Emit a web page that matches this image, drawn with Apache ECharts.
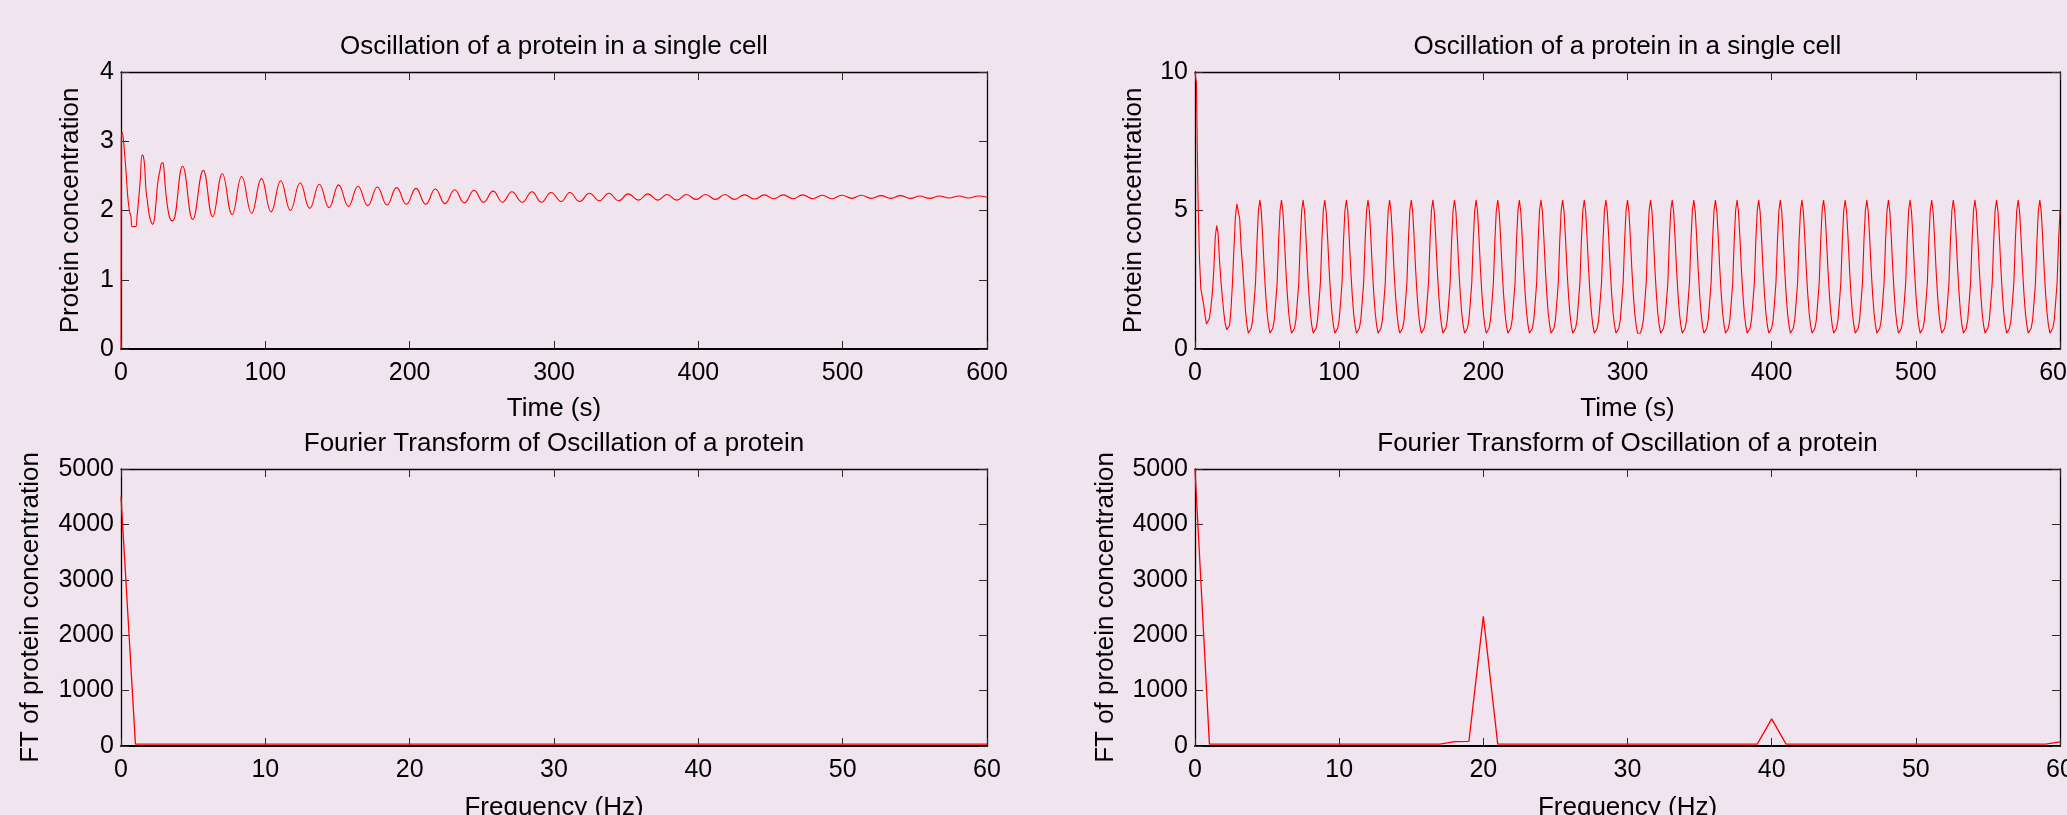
<!DOCTYPE html>
<html>
<head>
<meta charset="utf-8">
<title>Oscillation of a protein in a single cell</title>
<script src="https://cdn.jsdelivr.net/npm/echarts@6/dist/echarts.min.js"></script>
<style>
  html, body { margin: 0; padding: 0; background: #F0E4EE; }
  #chart { width: 2067px; height: 815px; }
</style>
</head>
<body>
<div id="chart"></div>
<script>
// ---- Damped oscillation (left column): sample times (s) and concentrations ----
const dampedTime = [
  0, 0.2, 0.8, 1.6, 2.3, 3.5, 4.6, 5.8, 6.9, 7.6, 10.4, 11.1, 12.2, 13.4, 14.6, 15.5,
  16.4, 17.3, 18.5, 19.6, 20.8, 21.9, 23.0, 24.2, 25.4, 27.0, 28.4, 29.3, 30.5, 31.9,
  33.5, 34.6, 35.8,
  42.7, 49.7, 57.0, 63.5, 70.2, 77.0, 83.6, 90.5, 97.3, 104.0, 110.7, 117.4, 124.1, 130.8,
  137.4, 144.2, 150.8, 157.6, 164.2, 171.0, 177.6, 184.3, 191.0, 197.7, 204.4, 211.1,
  217.8, 224.5, 231.2, 237.9, 244.6, 251.2, 257.8, 264.4, 270.8, 278.0, 284.7, 291.3,
  298.0, 305.0, 311.0, 317.8, 324.6, 331.4, 338.0, 344.9, 351.4, 358.5, 365.0, 371.9,
  378.3, 385.1, 391.7, 398.5, 405.0, 411.9, 418.4, 425.1, 432.0, 439.0, 445.8, 452.2,
  458.8, 465.6, 472.2, 479.2, 485.8, 492.6, 499.4, 506.4, 512.9, 519.8, 526.6, 533.3,
  540.0, 546.8, 553.5, 560.2, 567.0, 573.7, 580.5, 587.2, 594.0, 600
];
const dampedConc = [
  0, 3.0, 3.13, 3.04, 2.87, 2.56, 2.22, 2.0, 1.91, 1.77, 1.77, 1.91, 2.15, 2.46, 2.8, 2.78,
  2.63, 2.3, 2.1, 1.93, 1.84, 1.8, 1.86, 2.1, 2.39, 2.58, 2.69, 2.68, 2.39, 2.1,
  1.91, 1.86, 1.85,
  2.64, 1.87, 2.58, 1.91, 2.53, 1.94, 2.49, 1.96, 2.46, 1.98, 2.43, 2.00, 2.40, 2.03,
  2.38, 2.04, 2.37, 2.06, 2.35, 2.07, 2.34, 2.08, 2.33, 2.09, 2.32, 2.09,
  2.31, 2.10, 2.30, 2.11, 2.29, 2.12, 2.28, 2.12, 2.27, 2.12, 2.27, 2.12,
  2.26, 2.13, 2.26, 2.13, 2.25, 2.14, 2.25, 2.14, 2.24, 2.15, 2.24, 2.15,
  2.23, 2.15, 2.23, 2.16, 2.23, 2.16, 2.23, 2.16, 2.225, 2.165, 2.225, 2.17,
  2.225, 2.17, 2.225, 2.17, 2.22, 2.17, 2.22, 2.175, 2.22, 2.175, 2.215, 2.175,
  2.215, 2.175, 2.21, 2.175, 2.21, 2.18, 2.21, 2.18, 2.21, 2.19
];

// ---- Sustained oscillation (right column): one sample per second, t = 0 ... 600 s ----
const sustainedStep = 1;
const sustainedConc = [
  10.0, 9.6, 5.7, 3.4, 2.2, 1.9, 1.6, 1.2, 0.9, 0.88,
  1.1, 1.5, 2.0, 2.8, 4.0, 4.45, 4.2, 3.2, 2.45, 1.84,
  1.3, 0.9, 0.7, 0.63, 0.85, 1.45, 2.4, 3.6, 4.75, 5.24,
  5.2, 4.7, 3.66, 3.0, 2.2, 1.4, 0.87,
  0.57, 0.58, 0.75, 1.05, 1.7, 2.4, 3.9, 5.0, 5.38, 4.95, 4.0, 2.9, 2.0, 1.3, 0.85,
  0.57, 0.58, 0.75, 1.05, 1.7, 2.4, 3.9, 5.0, 5.38, 4.95, 4.0, 2.9, 2.0, 1.3, 0.85,
  0.57, 0.58, 0.75, 1.05, 1.7, 2.4, 3.9, 5.0, 5.38, 4.95, 4.0, 2.9, 2.0, 1.3, 0.85,
  0.57, 0.58, 0.75, 1.05, 1.7, 2.4, 3.9, 5.0, 5.38, 4.95, 4.0, 2.9, 2.0, 1.3, 0.85,
  0.57, 0.58, 0.75, 1.05, 1.7, 2.4, 3.9, 5.0, 5.38, 4.95, 4.0, 2.9, 2.0, 1.3, 0.85,
  0.57, 0.58, 0.75, 1.05, 1.7, 2.4, 3.9, 5.0, 5.38, 4.95, 4.0, 2.9, 2.0, 1.3, 0.85,
  0.57, 0.58, 0.75, 1.05, 1.7, 2.4, 3.9, 5.0, 5.38, 4.95, 4.0, 2.9, 2.0, 1.3, 0.85,
  0.57, 0.58, 0.75, 1.05, 1.7, 2.4, 3.9, 5.0, 5.38, 4.95, 4.0, 2.9, 2.0, 1.3, 0.85,
  0.57, 0.58, 0.75, 1.05, 1.7, 2.4, 3.9, 5.0, 5.38, 4.95, 4.0, 2.9, 2.0, 1.3, 0.85,
  0.57, 0.58, 0.75, 1.05, 1.7, 2.4, 3.9, 5.0, 5.38, 4.95, 4.0, 2.9, 2.0, 1.3, 0.85,
  0.57, 0.58, 0.75, 1.05, 1.7, 2.4, 3.9, 5.0, 5.38, 4.95, 4.0, 2.9, 2.0, 1.3, 0.85,
  0.57, 0.58, 0.75, 1.05, 1.7, 2.4, 3.9, 5.0, 5.38, 4.95, 4.0, 2.9, 2.0, 1.3, 0.85,
  0.57, 0.58, 0.75, 1.05, 1.7, 2.4, 3.9, 5.0, 5.38, 4.95, 4.0, 2.9, 2.0, 1.3, 0.85,
  0.57, 0.58, 0.75, 1.05, 1.7, 2.4, 3.9, 5.0, 5.38, 4.95, 4.0, 2.9, 2.0, 1.3, 0.85,
  0.57, 0.58, 0.75, 1.05, 1.7, 2.4, 3.9, 5.0, 5.38, 4.95, 4.0, 2.9, 2.0, 1.3, 0.85,
  0.57, 0.58, 0.75, 1.05, 1.7, 2.4, 3.9, 5.0, 5.38, 4.95, 4.0, 2.9, 2.0, 1.3, 0.85,
  0.57, 0.58, 0.75, 1.05, 1.7, 2.4, 3.9, 5.0, 5.38, 4.95, 4.0, 2.9, 2.0, 1.3, 0.85,
  0.57, 0.58, 0.75, 1.05, 1.7, 2.4, 3.9, 5.0, 5.38, 4.95, 4.0, 2.9, 2.0, 1.3, 0.85,
  0.57,
  0.57, 0.58, 0.75, 1.05, 1.7, 2.4, 3.9, 5.0, 5.38, 4.95, 4.0, 2.9, 2.0, 1.3, 0.85,
  0.57, 0.58, 0.75, 1.05, 1.7, 2.4, 3.9, 5.0, 5.38, 4.95, 4.0, 2.9, 2.0, 1.3, 0.85,
  0.57, 0.58, 0.75, 1.05, 1.7, 2.4, 3.9, 5.0, 5.38, 4.95, 4.0, 2.9, 2.0, 1.3, 0.85,
  0.57, 0.58, 0.75, 1.05, 1.7, 2.4, 3.9, 5.0, 5.38, 4.95, 4.0, 2.9, 2.0, 1.3, 0.85,
  0.57, 0.58, 0.75, 1.05, 1.7, 2.4, 3.9, 5.0, 5.38, 4.95, 4.0, 2.9, 2.0, 1.3, 0.85,
  0.57, 0.58, 0.75, 1.05, 1.7, 2.4, 3.9, 5.0, 5.38, 4.95, 4.0, 2.9, 2.0, 1.3, 0.85,
  0.57, 0.58, 0.75, 1.05, 1.7, 2.4, 3.9, 5.0, 5.38, 4.95, 4.0, 2.9, 2.0, 1.3, 0.85,
  0.57, 0.58, 0.75, 1.05, 1.7, 2.4, 3.9, 5.0, 5.38, 4.95, 4.0, 2.9, 2.0, 1.3, 0.85,
  0.57, 0.58, 0.75, 1.05, 1.7, 2.4, 3.9, 5.0, 5.38, 4.95, 4.0, 2.9, 2.0, 1.3, 0.85,
  0.57, 0.58, 0.75, 1.05, 1.7, 2.4, 3.9, 5.0, 5.38, 4.95, 4.0, 2.9, 2.0, 1.3, 0.85,
  0.57, 0.58, 0.75, 1.05, 1.7, 2.4, 3.9, 5.0, 5.38, 4.95, 4.0, 2.9, 2.0, 1.3, 0.85,
  0.57, 0.58, 0.75, 1.05, 1.7, 2.4, 3.9, 5.0, 5.38, 4.95, 4.0, 2.9, 2.0, 1.3, 0.85,
  0.57, 0.58, 0.75, 1.05, 1.7, 2.4, 3.9, 5.0, 5.38, 4.95, 4.0, 2.9, 2.0, 1.3, 0.85,
  0.57, 0.58, 0.75, 1.05, 1.7, 2.4, 3.9, 5.0, 5.38, 4.95, 4.0, 2.9, 2.0, 1.3, 0.85,
  0.57, 0.58, 0.75, 1.05, 1.7, 2.4, 3.9, 5.0, 5.38, 4.95, 4.0, 2.9, 2.0, 1.3, 0.85,
  0.57, 0.58, 0.75, 1.05, 1.7, 2.4, 3.9, 5.0, 5.38, 4.95, 4.0, 2.9, 2.0, 1.3, 0.85,
  0.57, 0.58, 0.75, 1.05, 1.7, 2.4, 3.9, 5.0, 5.38, 4.95, 4.0, 2.9, 2.0, 1.3, 0.85,
  0.57, 0.58, 0.75, 1.05, 1.7, 2.4, 3.9, 5.0, 5.38, 4.95, 4.0, 2.9, 2.0, 1.3, 0.85,
  0.57, 0.58, 0.75, 1.05, 1.7, 2.4, 3.9, 5.0, 5.38, 4.95, 4.0, 2.9, 2.0, 1.3, 0.85,
  0.57, 0.58, 0.75, 1.05, 1.7, 2.4, 3.9, 5.0
];

// ---- Fourier transforms, one value per frequency bin 0 ... 60 ----
const ftDamped = [
  4500, 35, 35, 35, 35, 35, 35, 35, 35, 35,
  35, 35, 35, 35, 35, 35, 35, 35, 35, 35,
  35, 35, 35, 35, 35, 35, 35, 35, 35, 35,
  35, 35, 35, 35, 35, 35, 35, 35, 35, 35,
  35, 35, 35, 35, 35, 35, 35, 35, 35, 35,
  35, 35, 35, 35, 35, 35, 35, 35, 35, 35,
  35
];
const ftSustained = [
  4990, 35, 35, 35, 35, 35, 35, 35, 35, 35,
  35, 35, 35, 35, 35, 35, 35, 35, 80, 85,
  2340, 35, 35, 35, 35, 35, 35, 35, 35, 35,
  35, 35, 35, 35, 35, 35, 35, 35, 35, 35,
  490, 35, 35, 35, 35, 35, 35, 35, 35, 35,
  35, 35, 35, 35, 35, 35, 35, 35, 35, 35,
  75
];

// ---- Tick values ----
const timeTicks = [0, 100, 200, 300, 400, 500, 600];
const freqTicks = [0, 10, 20, 30, 40, 50, 60];
const dampedTicks = [0, 1, 2, 3, 4];
const sustainedTicks = [0, 5, 10];
const ftTicks = [0, 1000, 2000, 3000, 4000, 5000];

// ---- Texts ----
const titleOsc = 'Oscillation of a protein in a single cell';
const titleFT = 'Fourier Transform of Oscillation of a protein';
const labelTime = 'Time (s)';
const labelFreq = 'Frequency (Hz)';
const labelConc = 'Protein concentration';
const labelFT = 'FT of protein concentration';

const FONT = '"Liberation Sans", Arial, Helvetica, sans-serif';
const INK = '#000000';
const TICK_INK = '#2b2b2b';
const RED = '#FF0000';

// Panel boxes: [left, top, width, height]
const panels = [
  { box: [121, 72, 866, 277], xt: timeTicks, yt: dampedTicks, xName: labelTime, xGap: 47, yName: labelConc, yGap: 37, title: titleOsc },
  { box: [1195, 72, 865, 277], xt: timeTicks, yt: sustainedTicks, xName: labelTime, xGap: 47, yName: labelConc, yGap: 48, title: titleOsc },
  { box: [121, 469, 866, 277], xt: freqTicks, yt: ftTicks, xName: labelFreq, xGap: 49, yName: labelFT, yGap: 77, title: titleFT },
  { box: [1195, 469, 865, 277], xt: freqTicks, yt: ftTicks, xName: labelFreq, xGap: 49, yName: labelFT, yGap: 76, title: titleFT }
];

function rangeOf(ticks) {
  return { min: ticks[0], max: ticks[ticks.length - 1], interval: ticks[1] - ticks[0] };
}
const plainNumber = v => String(v);

const grid = [], xAxis = [], yAxis = [], graphic = [];
panels.forEach((p, g) => {
  const [l, t, w, h] = p.box;
  grid.push({ left: l, top: t, width: w, height: h, show: false, containLabel: false, outerBoundsMode: 'none' });

  const xr = rangeOf(p.xt), yr = rangeOf(p.yt);
  const tick = { show: true, inside: true, length: 8, lineStyle: { color: TICK_INK, width: 1 } };
  const labelStyle = { color: INK, fontSize: 25, fontFamily: FONT, formatter: plainNumber };
  const nameStyle = { color: INK, fontSize: 26, fontFamily: FONT };

  xAxis.push({
    gridIndex: g, type: 'value', position: 'bottom', ...xr,
    axisLine: { show: true, onZero: false, lineStyle: { color: INK, width: 2 } },
    axisTick: tick, splitLine: { show: false },
    axisLabel: { show: true, margin: 12, ...labelStyle },
    name: p.xName, nameLocation: 'middle', nameGap: p.xGap, nameTextStyle: nameStyle
  });
  xAxis.push({
    gridIndex: g, type: 'value', position: 'top', ...xr,
    axisLine: { show: true, onZero: false, lineStyle: { color: INK, width: 1.3 } },
    axisTick: tick, splitLine: { show: false }, axisLabel: { show: false }
  });
  yAxis.push({
    gridIndex: g, type: 'value', position: 'left', ...yr,
    axisLine: { show: true, onZero: false, lineStyle: { color: INK, width: 1.3 } },
    axisTick: tick, splitLine: { show: false },
    axisLabel: { show: true, margin: 7, ...labelStyle },
    name: p.yName, nameLocation: 'middle', nameGap: p.yGap, nameTextStyle: nameStyle
  });
  yAxis.push({
    gridIndex: g, type: 'value', position: 'right', ...yr,
    axisLine: { show: true, onZero: false, lineStyle: { color: INK, width: 1.3 } },
    axisTick: tick, splitLine: { show: false }, axisLabel: { show: false }
  });

  graphic.push({
    type: 'text', x: l + w / 2, y: t - 25,
    style: { text: p.title, fill: INK, font: '26px ' + FONT, textAlign: 'center', textVerticalAlign: 'middle' }
  });
});

function lineSeries(g, data, width, smooth) {
  return {
    type: 'line', xAxisIndex: 2 * g, yAxisIndex: 2 * g, data: data,
    symbol: 'none', showSymbol: false, clip: true, animation: false,
    smooth: smooth || false,
    lineStyle: { color: RED, width: width }
  };
}

const series = [
  lineSeries(0, dampedTime.map((t, i) => [t, dampedConc[i]]), 1.1, 0.45),
  lineSeries(1, sustainedConc.map((v, i) => [i * sustainedStep, v]), 1.1),
  lineSeries(2, ftDamped.map((v, i) => [i, v]), 1.3),
  lineSeries(3, ftSustained.map((v, i) => [i, v]), 1.3)
];

const chart = echarts.init(document.getElementById('chart'), null, { renderer: 'canvas' });
chart.setOption({
  backgroundColor: '#F0E4EE',
  animation: false,
  grid, xAxis, yAxis, series, graphic
});
</script>
</body>
</html>
